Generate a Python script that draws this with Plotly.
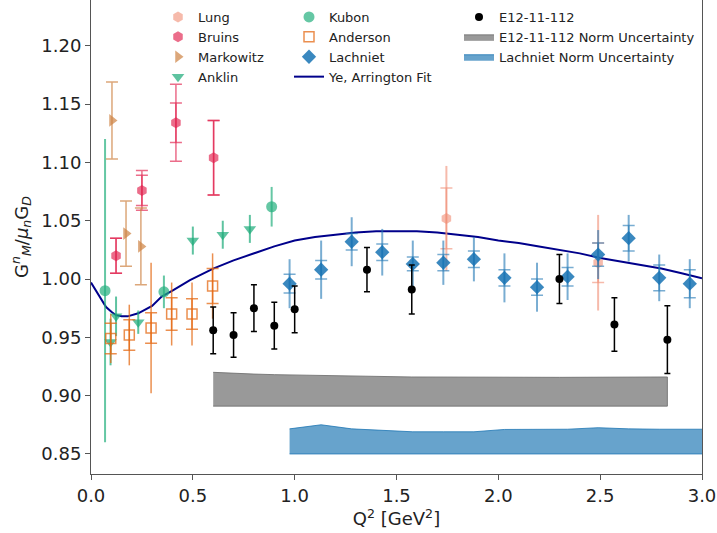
import plotly.graph_objects as go

# ---------------- data ----------------
lung_q2 = [1.745, 2.49]
lung_val = [1.052, 1.014]
lung_stat = [0.026, 0.017]
lung_tot = [0.045, 0.041]

bruins_q2 = [0.123, 0.25, 0.417, 0.602]
bruins_val = [1.020, 1.076, 1.134, 1.104]
bruins_stat = [0.015, 0.013, 0.017, 0.032]
bruins_tot = [0.015, 0.017, 0.033, 0.032]

markowitz_q2 = [0.103, 0.172, 0.245]
markowitz_val = [1.136, 1.039, 1.028]
markowitz_err = [0.033, 0.028, 0.033]

anklin_q2 = [0.096, 0.123, 0.232, 0.50, 0.647, 0.78]
anklin_val = [0.946, 0.968, 0.963, 1.033, 1.038, 1.043]
anklin_err = [0.020, 0.017, 0.010, 0.012, 0.012, 0.012]

kubon_q2 = [0.069, 0.358, 0.887]
kubon_val = [0.990, 0.989, 1.062]
kubon_err = [0.130, 0.014, 0.017]

anderson_q2 = [0.097, 0.188, 0.295, 0.396, 0.496, 0.597]
anderson_val = [0.949, 0.952, 0.958, 0.970, 0.970, 0.994]
anderson_stat = [0.013, 0.013, 0.013, 0.014, 0.013, 0.015]
anderson_tot = [0.021, 0.026, 0.056, 0.027, 0.027, 0.028]

lachniet_q2 = [0.975, 1.13, 1.28, 1.43, 1.58, 1.73, 1.88, 2.03, 2.19, 2.34, 2.49, 2.64, 2.79, 2.94]
lachniet_val = [0.996, 1.008, 1.032, 1.023, 1.013, 1.014, 1.017, 1.001, 0.993, 1.002, 1.021, 1.035, 1.001, 0.996]
lachniet_stat = [0.008, 0.008, 0.007, 0.007, 0.006, 0.007, 0.007, 0.007, 0.007, 0.008, 0.010, 0.011, 0.011, 0.012]
lachniet_tot = [0.021, 0.025, 0.021, 0.020, 0.020, 0.019, 0.019, 0.021, 0.021, 0.020, 0.021, 0.020, 0.020, 0.021]

e12_q2 = [0.60, 0.70, 0.80, 0.90, 1.00, 1.355, 1.575, 2.30, 2.57, 2.83]
e12_val = [0.956, 0.952, 0.975, 0.960, 0.974, 1.008, 0.991, 1.000, 0.961, 0.948]
e12_err = [0.020, 0.019, 0.020, 0.020, 0.020, 0.019, 0.021, 0.021, 0.023, 0.029]

fit_q2 = [0.0, 0.03, 0.05, 0.074, 0.10, 0.123, 0.15, 0.18, 0.232, 0.30, 0.347, 0.40, 0.486,
          0.60, 0.70, 0.80, 0.90, 1.0, 1.1, 1.2, 1.3, 1.4, 1.5, 1.6, 1.7, 1.8, 1.9, 2.0,
          2.1, 2.2, 2.3, 2.4, 2.5, 2.6, 2.7, 2.8, 2.9, 3.0]
fit_val = [0.997, 0.988, 0.982, 0.976, 0.972, 0.969, 0.968, 0.968, 0.9706, 0.977, 0.985, 0.990, 0.999,
           1.009, 1.016, 1.022, 1.028, 1.033, 1.036, 1.038, 1.040, 1.041, 1.041, 1.041, 1.040, 1.038, 1.036, 1.033,
           1.031, 1.028, 1.025, 1.022, 1.018, 1.015, 1.012, 1.009, 1.005, 1.0006]

e12_norm_q2 = [0.60, 0.70, 0.80, 0.90, 1.00, 1.355, 1.575, 2.30, 2.57, 2.83]
e12_norm_top = [0.920, 0.919, 0.9185, 0.918, 0.9178, 0.9165, 0.916, 0.9157, 0.9157, 0.916]
e12_norm_bot = [0.891] * 10

lach_norm_q2 = [0.975, 1.13, 1.28, 1.43, 1.58, 1.73, 1.88, 2.03, 2.19, 2.34, 2.49, 2.64, 2.79, 2.94, 3.09]
lach_norm_top = [0.8715, 0.8750, 0.8715, 0.8700, 0.8690, 0.8690, 0.8690, 0.8710, 0.8712, 0.8712, 0.8725, 0.8715, 0.8712, 0.8712, 0.8712]
lach_norm_bot = [0.850] * 15

x_ticks = [0.0, 0.5, 1.0, 1.5, 2.0, 2.5, 3.0]
y_ticks = [0.85, 0.90, 0.95, 1.00, 1.05, 1.10, 1.15, 1.20]

# ---------------- colours ----------------
C_LUNG = "rgba(240,140,115,0.6)"
C_BRUINS = "rgba(225,30,75,0.65)"
C_MARK = "rgba(205,130,65,0.7)"
C_ANKLIN = "rgba(25,170,120,0.7)"
C_KUBON = "rgba(35,175,125,0.7)"
C_ANDER = "rgba(228,105,20,0.75)"
C_LACH = "rgba(24,115,180,0.85)"
C_LACH_ERR = "rgba(31,119,180,0.6)"

fig = go.Figure()

def err(arr, color, width, thick=1.5):
    return dict(type="data", array=arr, symmetric=True, color=color, width=width, thickness=thick, visible=True)

def helper(x, y, arr, color, width, thick=1.5):
    fig.add_trace(go.Scatter(x=x, y=y, mode="markers", marker=dict(size=1, opacity=0),
                             error_y=err(arr, color, width, thick), showlegend=False, hoverinfo="skip"))

# norm bands
fig.add_trace(go.Scatter(x=e12_norm_q2 + e12_norm_q2[::-1], y=e12_norm_top + e12_norm_bot[::-1],
                         fill="toself", fillcolor="rgba(128,128,128,0.8)", mode="lines",
                         line=dict(color="rgba(110,110,110,0.85)", width=1),
                         name="E12-11-112 Norm Uncertainty", legend="legend3", legendrank=2))
fig.add_trace(go.Scatter(x=lach_norm_q2 + lach_norm_q2[::-1], y=lach_norm_top + lach_norm_bot[::-1],
                         fill="toself", fillcolor="rgba(31,119,180,0.68)", mode="lines",
                         line=dict(color="rgba(31,119,180,0.8)", width=1),
                         name="Lachniet Norm Uncertainty", legend="legend3", legendrank=3))

# fit
fig.add_trace(go.Scatter(x=fit_q2, y=fit_val, mode="lines", line=dict(color="#00008b", width=2),
                         name="Ye, Arrington Fit", legend="legend2", legendrank=4))

# Lung
helper(lung_q2, lung_val, lung_tot, C_LUNG, 0, 2)
fig.add_trace(go.Scatter(x=lung_q2, y=lung_val, mode="markers", name="Lung", legend="legend", legendrank=1,
                         marker=dict(symbol="hexagon", size=11, color=C_LUNG, line=dict(width=0)),
                         error_y=err(lung_stat, C_LUNG, 6, 1.5)))
# Bruins
helper(bruins_q2, bruins_val, bruins_tot, C_BRUINS, 6, 1.5)
fig.add_trace(go.Scatter(x=bruins_q2, y=bruins_val, mode="markers", name="Bruins", legend="legend", legendrank=2,
                         marker=dict(symbol="hexagon", size=11, color=C_BRUINS, line=dict(width=0)),
                         error_y=err(bruins_stat, C_BRUINS, 6, 1.5)))
# Markowitz
fig.add_trace(go.Scatter(x=markowitz_q2, y=markowitz_val, mode="markers", name="Markowitz", legend="legend", legendrank=3,
                         marker=dict(symbol="triangle-right", size=11, color=C_MARK, line=dict(width=0)),
                         error_y=err(markowitz_err, C_MARK, 6, 1.5)))
# Anklin
fig.add_trace(go.Scatter(x=anklin_q2, y=anklin_val, mode="markers", name="Anklin", legend="legend", legendrank=4,
                         marker=dict(symbol="triangle-down", size=11, color=C_ANKLIN, line=dict(width=0)),
                         error_y=err(anklin_err, C_ANKLIN, 0, 2)))
# Kubon
fig.add_trace(go.Scatter(x=kubon_q2, y=kubon_val, mode="markers", name="Kubon", legend="legend2", legendrank=1,
                         marker=dict(symbol="circle", size=11, color=C_KUBON, line=dict(width=0)),
                         error_y=err(kubon_err, C_KUBON, 0, 2)))
# Anderson
helper(anderson_q2, anderson_val, anderson_tot, C_ANDER, 0, 1.5)
fig.add_trace(go.Scatter(x=anderson_q2, y=anderson_val, mode="markers", name="Anderson", legend="legend2", legendrank=2,
                         marker=dict(symbol="square-open", size=10, color=C_ANDER, line=dict(width=1.5, color=C_ANDER)),
                         error_y=err(anderson_stat, C_ANDER, 6, 1.5)))
# Lachniet
helper(lachniet_q2, lachniet_val, lachniet_tot, C_LACH_ERR, 0, 2)
fig.add_trace(go.Scatter(x=lachniet_q2, y=lachniet_val, mode="markers", name="Lachniet", legend="legend2", legendrank=3,
                         marker=dict(symbol="diamond", size=11, color=C_LACH, line=dict(width=0)),
                         error_y=err(lachniet_stat, C_LACH_ERR, 6, 1.5)))
# E12-11-112
fig.add_trace(go.Scatter(x=e12_q2, y=e12_val, mode="markers", name="E12-11-112", legend="legend3", legendrank=1,
                         marker=dict(symbol="circle", size=8, color="black"),
                         error_y=err(e12_err, "black", 3, 1.5)))

FONT = "DejaVu Sans"
W, H = 717, 533
ML, MR, MT, MB = 91, 15, 0, 59
pw = W - ML - MR
ph = H - MT - MB

def lx(px):
    return (px - ML) / pw

def ly(py):
    return 1 - (py - MT) / ph

leg_common = dict(bgcolor="rgba(0,0,0,0)", borderwidth=0, font=dict(family=FONT, size=13, color="#222"),
                  xanchor="left", yanchor="top", traceorder="normal", itemwidth=30,
                  orientation="v")

fig.update_layout(
    width=W, height=H,
    margin=dict(l=ML, r=MR, t=MT, b=MB),
    paper_bgcolor="white", plot_bgcolor="white",
    font=dict(family=FONT, size=18, color="#222"),
    showlegend=True,
    legend=dict(x=lx(158), y=ly(2), **leg_common),
    legend2=dict(x=lx(289), y=ly(2), **leg_common),
    legend3=dict(x=lx(459), y=ly(2), **leg_common),
    xaxis=dict(range=[0, 3.0], tickvals=x_ticks, ticktext=[f"{v:.1f}" for v in x_ticks],
               showgrid=False, zeroline=False, showline=True, linecolor="#555", linewidth=1, mirror=True,
               ticks="outside", ticklen=5, tickcolor="#555",
               tickfont=dict(family=FONT, size=18),
               title=dict(text="Q<sup>2</sup> [GeV<sup>2</sup>]", font=dict(family=FONT, size=18), standoff=6)),
    yaxis=dict(range=[0.8328, 1.2393], tickvals=y_ticks, ticktext=[f"{v:.2f}" for v in y_ticks],
               showgrid=False, zeroline=False, showline=True, linecolor="#555", linewidth=1, mirror=True,
               ticks="outside", ticklen=5, tickcolor="#555",
               tickfont=dict(family=FONT, size=18),
               title=dict(text="G<sup><i>n</i></sup><sub><i>M</i></sub>/<i>μ</i><sub><i>n</i></sub>G<sub><i>D</i></sub>",
                          font=dict(family=FONT, size=18), standoff=8)),
)

fig.write_html("out.html", config={"displayModeBar": False},
               post_script="document.body.style.margin='0';document.body.style.overflow='hidden';")
